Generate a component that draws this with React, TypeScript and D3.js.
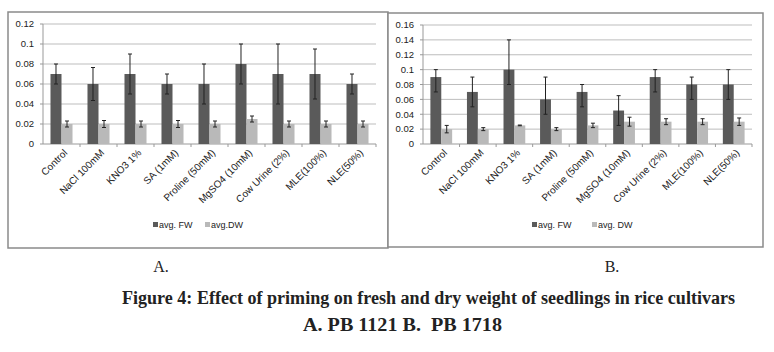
import * as d3 from "d3";

const categories = [
  "Control",
  "NaCl 100mM",
  "KNO3 1%",
  "SA (1mM)",
  "Proline (50mM)",
  "MgSO4 (10mM)",
  "Cow Urine (2%)",
  "MLE(100%)",
  "NLE(50%)",
];

// panel A: PB 1121
const fwA = [0.07, 0.06, 0.07, 0.06, 0.06, 0.08, 0.07, 0.07, 0.06];
const fwErrA = [0.01, 0.0165, 0.02, 0.01, 0.02, 0.02, 0.03, 0.025, 0.01];
const dwA = [0.02, 0.02, 0.02, 0.02, 0.02, 0.025, 0.02, 0.02, 0.02];
const dwErrA = [0.003, 0.0035, 0.003, 0.0035, 0.003, 0.003, 0.003, 0.003, 0.003];
const ticksA = [0, 0.02, 0.04, 0.06, 0.08, 0.1, 0.12];

// panel B: PB 1718 (error bars are not symmetric)
const fwB = [0.09, 0.07, 0.1, 0.06, 0.07, 0.045, 0.09, 0.08, 0.08];
const fwErrHiB = [0.01, 0.02, 0.04, 0.03, 0.01, 0.02, 0.01, 0.01, 0.02];
const fwErrLoB = [0.02, 0.02, 0.02, 0.02, 0.02, 0.02, 0.02, 0.02, 0.02];
const dwB = [0.02, 0.02, 0.025, 0.02, 0.025, 0.03, 0.03, 0.03, 0.03];
const dwErrB = [0.005, 0.002, 0.0005, 0.002, 0.003, 0.006, 0.004, 0.004, 0.005];
const ticksB = [0, 0.02, 0.04, 0.06, 0.08, 0.1, 0.12, 0.14, 0.16];

const dark = "#5a5a5a";
const light = "#b9b9b9";
const font = "'Liberation Sans', Arial, sans-serif";

type PanelProps = {
  box: [number, number, number, number];
  plot: { left: number; right: number; top: number; bottom: number };
  ticks: number[];
  fw: number[];
  fwHi: number[];
  fwLo: number[];
  dw: number[];
  dwErr: number[];
  legend: { x: number; names: [string, string]; gap: number };
};

function Panel({ box, plot, ticks, fw, fwHi, fwLo, dw, dwErr, legend }: PanelProps) {
  const [bx, by, bw, bh] = box;
  const x = d3.scaleBand<string>().domain(categories).range([plot.left, plot.right]);
  const inner = d3
    .scaleBand<string>()
    .domain(["fw", "dw"])
    .range([0, x.bandwidth()])
    .paddingInner(0)
    .paddingOuter(0.68);
  const y = d3
    .scaleLinear()
    .domain([0, d3.max(ticks) ?? 1])
    .range([plot.bottom, plot.top]);

  const errBar = (cx: number, v: number, lo: number, hi: number, key: string) => (
    <g key={key} stroke="#222" strokeWidth={1}>
      <line x1={cx} x2={cx} y1={y(v + hi)} y2={y(v - lo)} />
      <line x1={cx - 2} x2={cx + 2} y1={y(v + hi)} y2={y(v + hi)} />
      <line x1={cx - 2} x2={cx + 2} y1={y(v - lo)} y2={y(v - lo)} />
    </g>
  );

  return (
    <g>
      <rect x={bx} y={by} width={bw} height={bh} fill="#fff" stroke="#8a8a8a" strokeWidth={1.5} />
      {ticks.map((t) => (
        <g key={`t${t}`}>
          {t > 0 && (
            <line x1={plot.left} x2={plot.right} y1={y(t)} y2={y(t)} stroke="#bdbdbd" strokeWidth={1} />
          )}
          <line x1={plot.left - 3} x2={plot.left} y1={y(t)} y2={y(t)} stroke="#999" />
          <text
            x={plot.left - 9}
            y={y(t)}
            dy="0.35em"
            textAnchor="end"
            fontSize={9.5}
            fontFamily={font}
            fill="#222"
          >
            {String(t)}
          </text>
        </g>
      ))}
      <line x1={plot.left} x2={plot.left} y1={plot.top} y2={plot.bottom} stroke="#999" />
      <line x1={plot.left} x2={plot.right} y1={plot.bottom} y2={plot.bottom} stroke="#999" />
      {categories.map((c, i) => (
        <line
          key={`xt${i}`}
          x1={(x(c) ?? 0) + x.bandwidth()}
          x2={(x(c) ?? 0) + x.bandwidth()}
          y1={plot.bottom}
          y2={plot.bottom + 3}
          stroke="#999"
        />
      ))}
      {categories.map((c, i) => {
        const x0 = x(c) ?? 0;
        const xf = x0 + (inner("fw") ?? 0);
        const xd = x0 + (inner("dw") ?? 0);
        const w = inner.bandwidth();
        return (
          <g key={c}>
            <rect x={xf} y={y(fw[i])} width={w} height={plot.bottom - y(fw[i])} fill={dark} />
            <rect x={xd} y={y(dw[i])} width={w} height={plot.bottom - y(dw[i])} fill={light} />
            {errBar(xf + w / 2, fw[i], fwLo[i], fwHi[i], "ef")}
            {errBar(xd + w / 2, dw[i], dwErr[i], dwErr[i], "ed")}
          </g>
        );
      })}
      {categories.map((c) => {
        const cx = (x(c) ?? 0) + x.bandwidth() / 2 + 4;
        return (
          <text
            key={`l${c}`}
            transform={`translate(${cx},${plot.bottom + 7}) rotate(-45)`}
            textAnchor="end"
            dy="0.35em"
            fontSize={10}
            fontFamily={font}
            fill="#222"
          >
            {c}
          </text>
        );
      })}
      <g fontSize={9} fontFamily={font} fill="#222">
        <rect x={legend.x} y={222} width={5} height={5} fill={dark} />
        <text x={legend.x + 6} y={224.5} dy="0.35em">
          {legend.names[0]}
        </text>
        <rect x={legend.x + legend.gap} y={222} width={5} height={5} fill={light} />
        <text x={legend.x + legend.gap + 6} y={224.5} dy="0.35em">
          {legend.names[1]}
        </text>
      </g>
    </g>
  );
}

export default function App() {
  return (
    <svg
      width={774}
      height={352}
      viewBox="0 0 774 352"
      style={{ position: "absolute", left: 0, top: 0, background: "#fff" }}
    >
      <rect width={774} height={352} fill="#fff" />
      <Panel
        box={[8, 12, 380, 236]}
        plot={{ left: 43, right: 376, top: 24, bottom: 144 }}
        ticks={ticksA}
        fw={fwA}
        fwHi={fwErrA}
        fwLo={fwErrA}
        dw={dwA}
        dwErr={dwErrA}
        legend={{ x: 153, names: ["avg. FW", "avg.DW"], gap: 52 }}
      />
      <Panel
        box={[388, 13, 375, 234]}
        plot={{ left: 423, right: 752, top: 25, bottom: 144 }}
        ticks={ticksB}
        fw={fwB}
        fwHi={fwErrHiB}
        fwLo={fwErrLoB}
        dw={dwB}
        dwErr={dwErrB}
        legend={{ x: 532, names: ["avg. FW", "avg. DW"], gap: 60 }}
      />
      <g fontFamily="'Liberation Serif', 'Times New Roman', serif" fill="#222">
        <text x={161} y={272} textAnchor="middle" fontSize={16}>
          A.
        </text>
        <text x={612} y={272} textAnchor="middle" fontSize={16}>
          B.
        </text>
        {/* the caption is condensed: smaller font stretched vertically */}
        <g transform="translate(428.5,304) scale(1,1.25)">
          <text
            x={0}
            y={0}
            textAnchor="middle"
            fontSize={15.5}
            fontWeight="bold"
            textLength={613}
            lengthAdjust="spacingAndGlyphs"
          >
            Figure 4: Effect of priming on fresh and dry weight of seedlings in rice cultivars
          </text>
        </g>
        <g transform="translate(402.5,331) scale(1,1.25)">
          <text
            x={0}
            y={0}
            textAnchor="middle"
            fontSize={15.5}
            fontWeight="bold"
            textLength={199}
            lengthAdjust="spacingAndGlyphs"
            style={{ whiteSpace: "pre" }}
          >
            A. PB 1121 B.  PB 1718
          </text>
        </g>
      </g>
    </svg>
  );
}
